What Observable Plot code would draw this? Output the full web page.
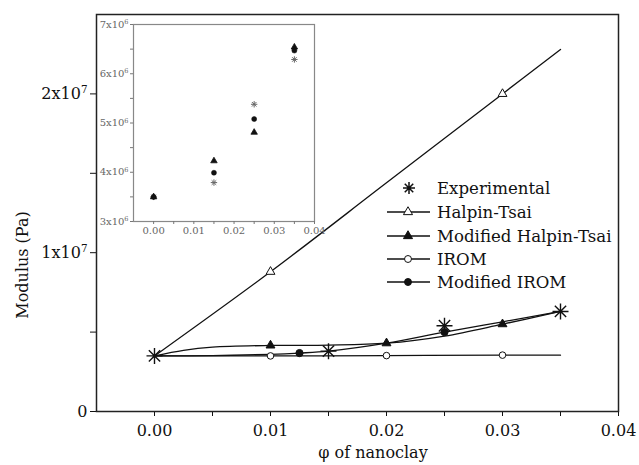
<!DOCTYPE html>
<html>
<head>
<meta charset="utf-8">
<script src="https://cdn.jsdelivr.net/npm/d3@7"></script>
<script src="https://cdn.jsdelivr.net/npm/@observablehq/plot@0.6"></script>
<style>
  body { margin: 0; background: #fff; }
  #wrap { position: relative; width: 639px; height: 465px; background: #fff; }
  #wrap svg { position: absolute; left: 0; top: 0; }
</style>
</head>
<body>
<div id="wrap"></div>
<script>
// ---------- data ----------
// Experimental points (main)
const expPhi = [0, 0.015, 0.025, 0.035];
const expMod = [3.5e6, 3.8e6, 5.4e6, 6.3e6];

// Halpin-Tsai curve
const htPhi = [0, 0.01, 0.02, 0.03, 0.035];
const htMod = [3.5e6, 8.8e6, 14.4e6, 20.0e6, 22.8e6];
const htMarkerPhi = [0.01, 0.03];

// Modified Halpin-Tsai curve
const mhtPhi = [0, 0.0025, 0.005, 0.01, 0.015, 0.02, 0.025, 0.03, 0.035];
const mhtMod = [3.5e6, 3.85e6, 4.05e6, 4.16e6, 4.18e6, 4.3e6, 4.75e6, 5.5e6, 6.3e6];
const mhtMarkerPhi = [0.01, 0.02, 0.03];

// IROM curve
const iromPhi = [0, 0.01, 0.02, 0.03, 0.035];
const iromMod = [3.5e6, 3.5e6, 3.52e6, 3.55e6, 3.55e6];
const iromMarkerPhi = [0.01, 0.02, 0.03];

// Modified IROM curve
const miromPhi = [0, 0.005, 0.01, 0.0125, 0.015, 0.02, 0.025, 0.03, 0.035];
const miromMod = [3.5e6, 3.52e6, 3.6e6, 3.68e6, 3.8e6, 4.3e6, 5.0e6, 5.65e6, 6.3e6];
const miromMarkerPhi = [0.0125, 0.025];

// Inset values
const insetPhi = [0, 0.015, 0.025, 0.035];
const insetExp = [3.5e6, 3.79e6, 5.38e6, 6.29e6];
const insetMHT = [3.5e6, 4.23e6, 4.81e6, 6.54e6];
const insetMIROM = [3.5e6, 3.99e6, 5.08e6, 6.47e6];

// Tick values / labels
const xMajor = [0, 0.01, 0.02, 0.03, 0.04];
const xMinor = [0.005, 0.015, 0.025, 0.035];
const yMain = [0, 1e7, 2e7];
const yMainMinor = [0.5e7, 1.5e7];
const yInset = [3e6, 4e6, 5e6, 6e6, 7e6];
const yInsetMinor = [3.5e6, 4.5e6, 5.5e6, 6.5e6];

const xTitle = "φ of nanoclay";
const yTitle = "Modulus (Pa)";
const legendLabels = ["Experimental", "Halpin-Tsai", "Modified Halpin-Tsai", "IROM", "Modified IROM"];

// ---------- helpers ----------
const zip = (xs, ys) => xs.map((x, i) => ({phi: x, mod: ys[i]}));
const pick = (xs, ys, sel) => zip(xs, ys).filter(d => sel.some(s => Math.abs(s - d.phi) < 1e-9));

const star8 = {
  draw(ctx, size) {
    const r = Math.sqrt(size / Math.PI);
    for (let k = 0; k < 4; k++) {
      const a = k * Math.PI / 4;
      const c = Math.cos(a) * r, s = Math.sin(a) * r;
      ctx.moveTo(-c, -s); ctx.lineTo(c, s);
    }
  }
};

const FONT = "DejaVu Serif";
const INK = "#111";

const ht = zip(htPhi, htMod), mht = zip(mhtPhi, mhtMod), irom = zip(iromPhi, iromMod), mirom = zip(miromPhi, miromMod);
const exp = zip(expPhi, expMod);

// ---------- main chart ----------
const main = Plot.plot({
  width: 639, height: 465,
  marginLeft: 96, marginRight: 21, marginTop: 14, marginBottom: 54,
  style: {fontFamily: FONT, fontSize: "16px", background: "transparent", color: INK},
  x: {domain: [-0.005, 0.04]},
  y: {domain: [0, 2.5e7]},
  marks: [
    Plot.axisX({ticks: xMinor, tickSize: 5, tickFormat: () => "", label: null}),
    Plot.axisX({ticks: xMajor, tickSize: 5, tickPadding: 8, tickFormat: d3.format(".2f"), label: null}),
    Plot.axisY({ticks: yMainMinor, tickSize: 6, tickFormat: () => "", label: null}),
    Plot.axisY({ticks: yMain, tickSize: 6, tickPadding: 3,
      tickFormat: d => d === 0 ? "0" : `${d / 1e7}x10^7`, label: null}),
    Plot.line(ht, {x: "phi", y: "mod", curve: "catmull-rom", stroke: INK, strokeWidth: 1.3}),
    Plot.line(mht, {x: "phi", y: "mod", curve: "catmull-rom", stroke: INK, strokeWidth: 1.3}),
    Plot.line(irom, {x: "phi", y: "mod", curve: "catmull-rom", stroke: INK, strokeWidth: 1.3}),
    Plot.line(mirom, {x: "phi", y: "mod", curve: "catmull-rom", stroke: INK, strokeWidth: 1.3}),
    Plot.dot(pick(htPhi, htMod, htMarkerPhi), {x: "phi", y: "mod", symbol: "triangle", r: 3.3, fill: "white", stroke: INK, strokeWidth: 1}),
    Plot.dot(pick(mhtPhi, mhtMod, mhtMarkerPhi), {x: "phi", y: "mod", symbol: "triangle", r: 3.3, fill: INK, stroke: INK, strokeWidth: 1}),
    Plot.dot(pick(iromPhi, iromMod, iromMarkerPhi), {x: "phi", y: "mod", symbol: "circle", r: 3.3, fill: "white", stroke: INK, strokeWidth: 1}),
    Plot.dot(pick(miromPhi, miromMod, miromMarkerPhi), {x: "phi", y: "mod", symbol: "circle", r: 3.6, fill: INK, stroke: INK, strokeWidth: 1}),
    Plot.dot(exp, {x: "phi", y: "mod", symbol: star8, r: 8, fill: "none", stroke: INK, strokeWidth: 1.4}),
    Plot.frame({stroke: "#222", strokeWidth: 1.5})
  ]
});

// ---------- inset chart ----------
const inset = Plot.plot({
  width: 330, height: 245,
  marginLeft: 133, marginRight: 16, marginTop: 24, marginBottom: 24,
  style: {fontFamily: FONT, fontSize: "10px", background: "transparent", color: "#666"},
  x: {domain: [-0.005, 0.04]},
  y: {domain: [3e6, 7e6]},
  marks: [
    Plot.frame({stroke: "#888", strokeWidth: 1.2, fill: "white"}),
    Plot.axisX({ticks: xMinor, tickSize: 3, tickFormat: () => "", label: null, stroke: "#777"}),
    Plot.axisX({ticks: xMajor, tickSize: 3, tickPadding: 2, tickFormat: d3.format(".2f"), label: null, stroke: "#777"}),
    Plot.axisY({ticks: yInsetMinor, tickSize: 3, tickFormat: () => "", label: null, stroke: "#777"}),
    Plot.axisY({ticks: yInset, tickSize: 3, tickPadding: 2, tickFormat: d => `${d / 1e6}x10^6`, label: null, stroke: "#777"}),
    Plot.dot(zip(insetPhi, insetExp), {x: "phi", y: "mod", symbol: star8, r: 3.2, fill: "none", stroke: "#666", strokeWidth: 1}),
    Plot.dot(zip(insetPhi, insetMHT), {x: "phi", y: "mod", symbol: "triangle", r: 2.4, fill: INK, stroke: INK, strokeWidth: 0.8}),
    Plot.dot(zip(insetPhi, insetMIROM), {x: "phi", y: "mod", symbol: "circle", r: 2.5, fill: INK, stroke: INK, strokeWidth: 0.5})
  ]
});

// superscript post-processing
function supify(svg) {
  d3.select(svg).selectAll("text").each(function() {
    const t = this.textContent;
    if (t.includes("^")) {
      const [base, ex] = t.split("^");
      const sel = d3.select(this);
      sel.text(base);
      sel.append("tspan").attr("dy", "-0.55em").attr("font-size", "0.65em").text(ex);
    }
  });
}
supify(main);
supify(inset);

// axis titles
const ms = d3.select(main);
ms.append("text").attr("x", 373).attr("y", 452).attr("dy", "0.35em")
  .attr("text-anchor", "middle").attr("font-family", FONT).attr("font-size", 16).attr("fill", INK).text(xTitle);
ms.append("text").attr("transform", "translate(22,265) rotate(-90)").attr("dy", "0.35em")
  .attr("text-anchor", "middle").attr("font-family", FONT).attr("font-size", 16).attr("fill", INK).text(yTitle);

// legend
const lg = ms.append("g").attr("font-family", FONT).attr("font-size", 16.6).attr("fill", INK).attr("text-anchor", "start");
const rowsY = [188, 212, 236, 259, 282];
const sym = [
  {type: "star"},
  {type: d3.symbolTriangle, fill: "white"},
  {type: d3.symbolTriangle, fill: INK},
  {type: d3.symbolCircle, fill: "white"},
  {type: d3.symbolCircle, fill: INK}
];
legendLabels.forEach((lab, i) => {
  const y = rowsY[i];
  const g = lg.append("g");
  if (i > 0) {
    g.append("line").attr("x1", 387).attr("x2", 430).attr("y1", y).attr("y2", y)
      .attr("stroke", INK).attr("stroke-width", 1.3);
  }
  if (sym[i].type === "star") {
    const path = d3.path();
    star8.draw(path, Math.PI * 6 * 6);
    g.append("path").attr("d", path.toString()).attr("transform", `translate(409,${y})`)
      .attr("stroke", INK).attr("stroke-width", 1.5).attr("fill", "none");
  } else {
    const size = sym[i].type === d3.symbolTriangle ? 36 : 38;
    g.append("path").attr("d", d3.symbol(sym[i].type, size)()).attr("transform", `translate(408,${y})`)
      .attr("fill", sym[i].fill).attr("stroke", INK).attr("stroke-width", 1);
  }
  g.append("text").attr("x", 437).attr("y", y).attr("dy", "0.35em").text(lab);
});

const wrap = document.getElementById("wrap");
wrap.appendChild(main);
wrap.appendChild(inset);
</script>
</body>
</html>
